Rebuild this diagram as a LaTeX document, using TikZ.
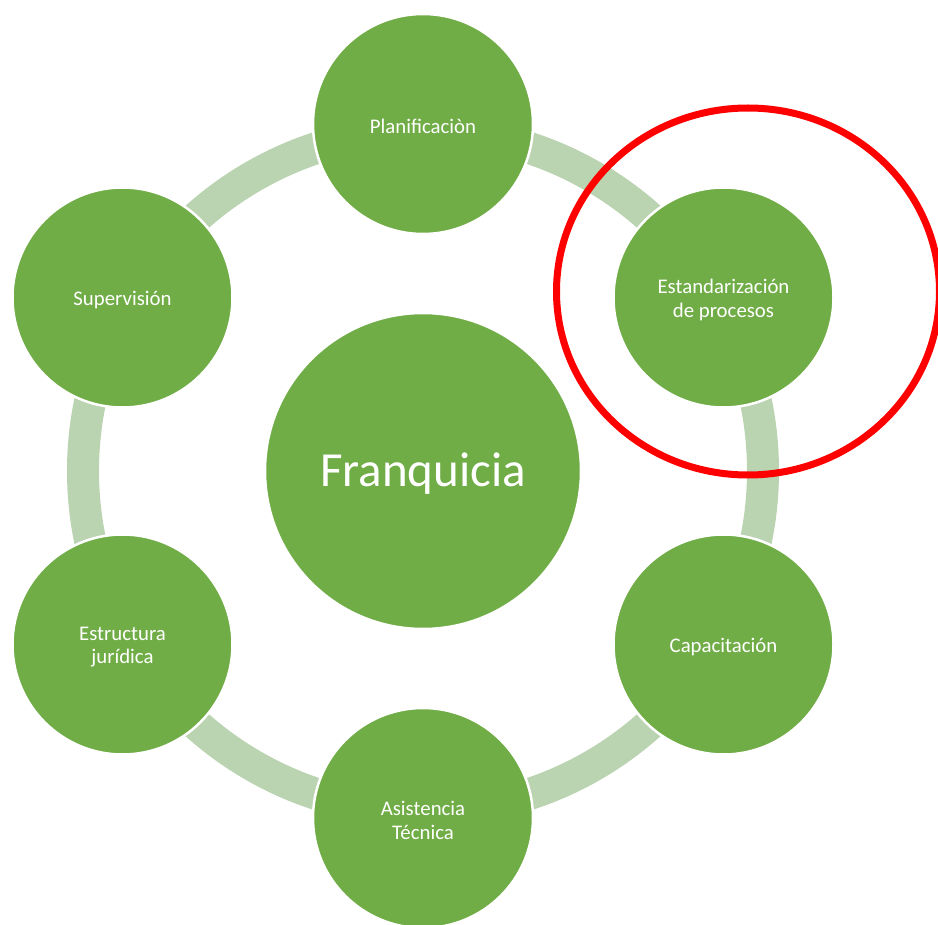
\documentclass[tikz,border=0pt]{standalone}
\usepackage{fontspec}
\setmainfont{Carlito}
\definecolor{leaf}{RGB}{112,173,71}
\definecolor{ringgreen}{RGB}{186,211,176}
\definecolor{markred}{RGB}{255,0,0}
\begin{document}
\begin{tikzpicture}[x=1pt,y=-1pt,
  petal/.style={circle, fill=leaf, draw=white, line width=2.5pt,
    minimum size=220pt, inner sep=0pt},
  hub/.style={circle, fill=leaf, draw=white, line width=2.5pt,
    minimum size=316pt, inner sep=0pt},
  petaltext/.style={text=white, align=center, inner sep=0pt,
    font=\fontsize{20.8}{23.3}\selectfont},
  hubtext/.style={text=white, inner sep=0pt,
    font=\fontsize{49}{55}\selectfont},
  ring/.style={draw=ringgreen, line width=32pt},
  marker/.style={draw=markred, line width=7pt}]
  \useasboundingbox (0,0) rectangle (938,925);
  \clip (0,0) rectangle (938,925);
  \fill[white] (0,0) rectangle (938,925);

  % cycle ring behind the outer circles
  \coordinate (mid) at (423,471);
  \draw[ring] (mid) circle[radius=340pt];

  % centre and outer circles
  \node[hub] (franq) at (mid) {};
  \node[petal] (plan) at (423,124) {};
  \node[petal] (estand) at (723.5,297.5) {};
  \node[petal] (capac) at (723.5,644.5) {};
  \node[petal] (asist) at (423,818) {};
  \node[petal] (estruc) at (122.5,644.5) {};
  \node[petal] (superv) at (122.5,297.5) {};

  % circle captions, set slightly below the geometric centre
  \node[hubtext] (franq-t) at ([yshift=-3pt]franq.center) {Franquicia};
  \node[petaltext] (plan-t) at ([yshift=-2pt]plan.center) {Planificaciòn};
  \node[petaltext] (estand-t) at ([yshift=-2.5pt]estand.center) {Estandarización\\de procesos};
  \node[petaltext] (capac-t) at ([yshift=-2.5pt]capac.center) {Capacitación};
  \node[petaltext] (asist-t) at ([yshift=-2.5pt]asist.center) {Asistencia\\Técnica};
  \node[petaltext] (estruc-t) at ([yshift=-2.5pt]estruc.center) {Estructura\\jurídica};
  \node[petaltext] (superv-t) at ([yshift=-2.5pt]superv.center) {Supervisión};

  % red highlight around the standardisation step
  \coordinate (hl) at (748,291.5);
  \draw[marker] (hl) ellipse[x radius=191.5pt, y radius=183.5pt];
\end{tikzpicture}
\end{document}
